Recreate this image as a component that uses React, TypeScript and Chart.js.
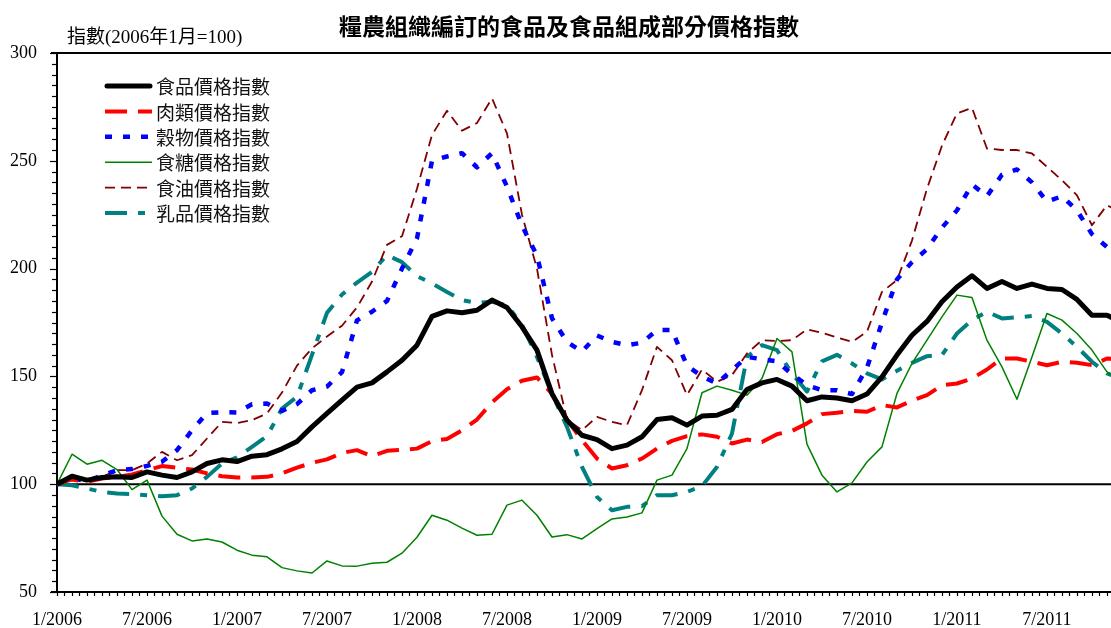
import React, { useEffect, useRef } from 'react';
import { Chart, registerables } from 'chart.js';

Chart.register(...registerables);

const chartTitle = '糧農組織編訂的食品及食品組成部分價格指數';
const yAxisTitle = '指數(2006年1月=100)';

// x tick labels, one every 6 months starting 1/2006 (month index 0)
const tickLabels = ['1/2006', '7/2006', '1/2007', '7/2007', '1/2008', '7/2008', '1/2009', '7/2009', '1/2010', '7/2010', '1/2011', '7/2011'];

const seriesNames = ['食品價格指數', '肉類價格指數', '穀物價格指數', '食糖價格指數', '食油價格指數', '乳品價格指數'];

// monthly values Jan 2006 .. Dec 2011
const food = [
  100, 103.7, 101.9, 103.1, 103.4, 103.1, 105.7, 104.2, 103.1, 105.7, 109.6, 111.3,
  110.5, 113, 113.7, 116.4, 119.8, 126.6, 132.8, 139, 145, 147, 152.1, 157.5,
  164.5, 177.8, 180.4, 179.5, 180.7, 185.4, 182, 173, 162.2, 142, 129.7, 122.7,
  120.7, 116.5, 118.1, 122, 130, 130.8, 127.4, 131.6, 132, 134.7, 143.9, 147,
  148.6, 145.5, 138.7, 140.5, 140, 138.7, 141.8, 149.8, 159.9, 169.1, 175.5, 184.6,
  191.5, 196.7, 190.8, 194, 190.8, 192.8, 190.8, 190.3, 185.7, 178.4, 178.4, 175,
];
const meat = [
  100, 102.2, 101.1, 102.6, 103.4, 104.5, 106.5, 108.4, 107.6, 106.8, 105, 103.7,
  103.1, 103.1, 103.4, 105, 107.7, 109.9, 111.5, 114.5, 115.8, 113, 115.5, 116,
  116.5, 120, 121, 125, 130, 138, 144, 148, 149.5, 142, 130, 120.4,
  111.9, 107.3, 108.8, 111.9, 116.5, 120.1, 122.3, 123.1, 122, 118.9, 120.7, 119.6,
  123.2, 124.7, 128.2, 132.5, 133.1, 134, 133.6, 136.7, 135.6, 138.7, 141.3, 145.9,
  146.7, 149, 153.2, 158.3, 158.3, 156.8, 155.2, 156.8, 156.3, 155.2, 158.3, 158,
];
const grains = [
  100, 102.5, 101.5, 104, 106.5, 107, 108.5, 110.4, 115.8, 125, 133, 133.4,
  133.3, 137.1, 137.4, 134, 137.1, 143.6, 145.3, 152, 176, 180, 185, 200,
  214, 250, 252, 253.5, 247, 253.5, 238, 220, 206, 177, 166, 161.5,
  169, 166, 164.5, 165.6, 171.5, 171.5, 155, 150, 146.7, 153, 159, 158,
  157, 151, 146, 143.6, 143.6, 141.8, 154, 175, 195, 203, 209, 219,
  227, 239, 233.6, 243.5, 246, 240, 231, 233.6, 227, 216, 210, 207,
];
const sugar = [
  100, 113.9, 109.3, 111.1, 106.8, 97.5, 101.9, 85.2, 76.8, 73.7, 74.6, 73.2,
  69.4, 67.1, 66.3, 61.3, 59.8, 58.8, 64.4, 62.1, 62, 63.3, 63.8, 68,
  75.4, 85.6, 83.3, 79.6, 76.3, 76.8, 90.3, 92.6, 85.6, 75.5, 76.6, 74.6,
  79.4, 83.9, 84.8, 86.7, 101.9, 104.2, 116.5, 142.4, 145.5, 143.6, 141.3, 149,
  167.6, 161.4, 118.6, 104.2, 96.4, 100.6, 110.3, 117.3, 142.1, 156, 166.8, 177.6,
  187.7, 186.6, 166.8, 154.4, 139.4, 159, 179.2, 176.1, 169.9, 162.2, 152.1, 148,
];
const oils = [
  100, 103, 101.5, 103.4, 106.5, 106.5, 109.6, 115, 111.1, 113.5, 121.2, 128.9,
  128.4, 129.7, 132.8, 142.5, 155, 163, 168.5, 173.5, 182, 194, 211, 215,
  237, 262, 273.2, 264, 267.5, 279, 262.7, 225, 200, 160, 130, 125,
  131.2, 128.9, 127.4, 143.6, 163.7, 157.5, 141.3, 153.2, 147.5, 150.6, 160.6, 166.8,
  166.4, 166.8, 171.8, 170.2, 168.1, 166, 170.7, 189.2, 194.7, 213, 237, 257,
  272, 274.6, 255.7, 255, 255, 253.4, 247.2, 241, 234, 220.1, 229.4, 226,
];
const dairy = [
  100, 99.5, 98, 96.4, 95.7, 95.4, 94.9, 94.4, 94.9, 98, 103.4, 109.6,
  112.4, 117.3, 122.3, 135.1, 140.5, 160, 179.5, 188, 193.5, 198.5, 206.3, 203,
  196.5, 193.1, 189.2, 185.4, 184.1, 184.6, 183, 174, 159, 142, 126.6, 108,
  94.1, 87.9, 89.5, 89.8, 94.9, 94.9, 96.4, 99.1, 108, 123.5, 159, 164.5,
  162.2, 151.4, 143, 157, 160, 156, 151.4, 148.6, 152.6, 156.3, 159.4, 159.9,
  169.9, 176.1, 180, 176.9, 177.4, 178, 175.3, 169.9, 163.7, 156.8, 151.4, 149,
];

const seriesValues = [food, meat, grains, sugar, oils, dairy];
const seriesColors = ['#000000', '#FF0000', '#0000FF', '#008000', '#800000', '#008080'];
const seriesWidths = [5, 4, 4.5, 1.5, 1.8, 4];
const seriesDashes: number[][] = [[], [22, 11], [7, 11], [], [10, 6], [22, 11, 7, 11]];

const framePlugin = {
  id: 'framePlugin',
  beforeDatasetsDraw(chart: any) {
    const { ctx, chartArea, scales } = chart;
    const { left, right, top, bottom } = chartArea;
    const x = scales.x;
    const y = scales.y;
    ctx.save();
    ctx.strokeStyle = '#000';
    const line = (x1: number, y1: number, x2: number, y2: number) => {
      ctx.beginPath();
      ctx.moveTo(x1, y1);
      ctx.lineTo(x2, y2);
      ctx.stroke();
    };
    ctx.lineWidth = 2;
    line(left - 6, top, right, top);
    const y100 = y.getPixelForValue(100);
    ctx.lineWidth = 2;
    line(left, y100, right, y100);
    line(left, top, left, bottom + 1);
    line(left - 6, bottom, right, bottom);
    ctx.lineWidth = 1.2;
    for (let v = 50; v <= 300; v += 5) {
      const py = Math.round(y.getPixelForValue(v)) + 0.5;
      const len = v % 50 === 0 ? 7 : 5;
      line(left - len, py, left, py);
    }
    for (let m = 0; m <= x.max + 0.01; m += 0.5) {
      const px = Math.round(x.getPixelForValue(m)) + 0.5;
      line(px, bottom, px, bottom + 4);
    }
    ctx.restore();
  },
  afterDraw(chart: any) {
    const { ctx } = chart;
    ctx.save();
    ctx.fillStyle = '#000';
    ctx.textBaseline = 'middle';
    ctx.textAlign = 'center';
    ctx.font = 'bold 23px "Noto Sans CJK TC", "Noto Sans CJK SC", sans-serif';
    ctx.fillText(chartTitle, 569, 26);
    ctx.textAlign = 'left';
    ctx.font = '19px "Liberation Serif", "Noto Sans CJK TC", serif';
    ctx.fillText(yAxisTitle, 67, 38);
    // legend inside plot
    const rowY0 = 86;
    const rowStep = 25.4;
    chart.data.datasets.forEach((ds: any, i: number) => {
      const ry = rowY0 + i * rowStep;
      ctx.save();
      ctx.strokeStyle = ds.borderColor;
      ctx.lineWidth = ds.borderWidth;
      ctx.setLineDash(ds.borderDash || []);
      ctx.lineCap = i === 0 ? 'round' : 'butt';
      ctx.beginPath();
      ctx.moveTo(i === 0 ? 107 : 105, ry);
      ctx.lineTo(i === 0 ? 150 : 152, ry);
      ctx.stroke();
      ctx.restore();
      ctx.fillStyle = '#111';
      ctx.font = '19px "Noto Sans CJK TC", "Noto Sans CJK SC", sans-serif';
      ctx.textAlign = 'left';
      ctx.textBaseline = 'middle';
      ctx.fillText(ds.label, 156, ry + 1);
    });
    ctx.restore();
  },
};

export default function App() {
  const ref = useRef<HTMLCanvasElement>(null);
  useEffect(() => {
    if (!ref.current) return;
    const datasets = seriesNames.map((name, i) => ({
      label: name,
      data: seriesValues[i].map((v, idx) => ({ x: idx, y: v })),
      borderColor: seriesColors[i],
      backgroundColor: seriesColors[i],
      borderWidth: seriesWidths[i],
      borderDash: seriesDashes[i],
      borderCapStyle: 'butt' as const,
      borderJoinStyle: 'round' as const,
      pointRadius: 0,
      fill: false,
      tension: 0,
    }));
    const chart = new Chart(ref.current, {
      type: 'line',
      data: { datasets },
      options: {
        animation: false,
        responsive: false,
        maintainAspectRatio: false,
        devicePixelRatio: 1,
        layout: { padding: { top: 53, left: 0, right: 0, bottom: 0 } },
        plugins: {
          legend: { display: false },
          tooltip: { enabled: false },
          title: { display: false },
        },
        scales: {
          x: {
            type: 'linear',
            min: 0,
            max: 70.27,
            grid: { display: false, drawTicks: false },
            border: { display: false },
            ticks: {
              stepSize: 6,
              autoSkip: false,
              maxRotation: 0,
              includeBounds: false,
              padding: 17,
              color: '#000',
              font: { family: '"Liberation Serif", serif', size: 18 },
              callback: (v: any) => {
                const k = Number(v) / 6;
                return Number.isInteger(k) ? tickLabels[k] ?? '' : '';
              },
            },
            afterFit: (s: any) => {
              s.height = 36;
            },
          },
          y: {
            type: 'linear',
            min: 50,
            max: 300,
            grid: { display: false, drawTicks: false },
            border: { display: false },
            ticks: {
              stepSize: 50,
              padding: 20,
              color: '#000',
              font: { family: '"Liberation Serif", serif', size: 18 },
            },
            afterFit: (s: any) => {
              s.width = 57;
            },
          },
        },
      },
      plugins: [framePlugin],
    });
    return () => chart.destroy();
  }, []);
  return (
    <div style={{ position: 'fixed', left: 0, top: 0, width: 1111, height: 628, background: '#fff' }}>
      <canvas ref={ref} width={1111} height={628} style={{ display: 'block', width: 1111, height: 628 }} />
    </div>
  );
}
